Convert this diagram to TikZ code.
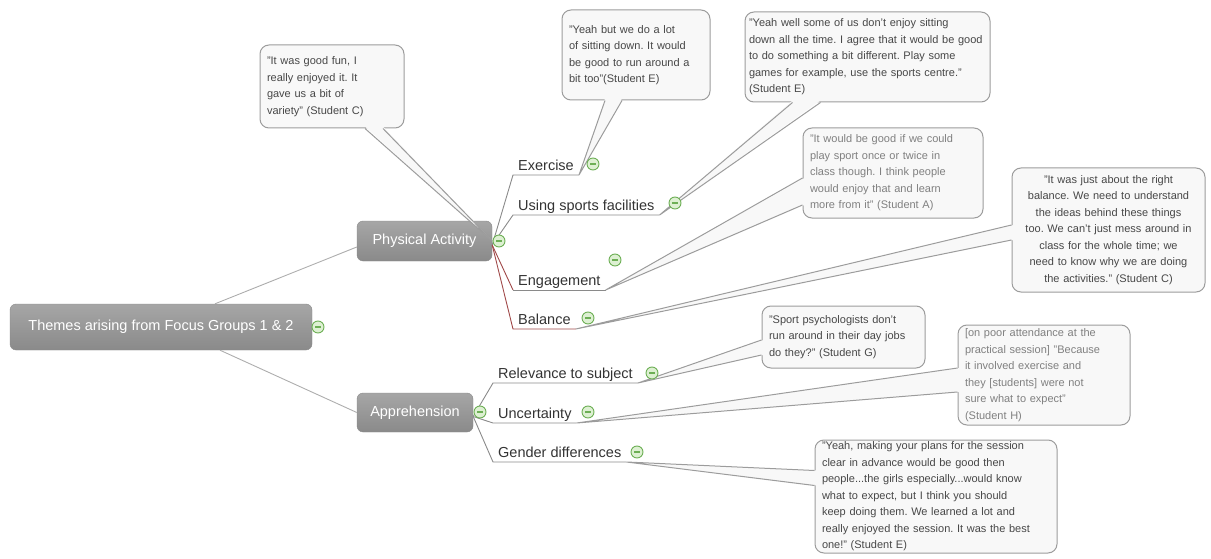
\documentclass[tikz,border=0pt]{standalone}
\usepackage{fontspec}
\setmainfont{Liberation Sans}
\usetikzlibrary{positioning,calc}
\definecolor{topictop}{HTML}{A6A6A6}
\definecolor{topicbot}{HTML}{8A8A8A}
\definecolor{linegray}{HTML}{8A8A8A}
\definecolor{branchred}{HTML}{A04848}
\definecolor{labeltext}{HTML}{333333}
\definecolor{minusgreen}{HTML}{6DAF55}
\definecolor{minusfill}{HTML}{DDF0D2}
\definecolor{quoteborder}{HTML}{9C9C9C}
\definecolor{quotefill}{HTML}{F8F8F8}
\definecolor{quotetext}{HTML}{474747}
\definecolor{quotelight}{HTML}{808080}
\tikzset{
  theme/.style={rectangle,rounded corners=6pt,top color=topictop,bottom color=topicbot,
    draw=topicbot,text=white,font=\fontsize{14.5}{17}\selectfont,inner sep=0pt},
  subtopic/.style={anchor=south west,inner xsep=5pt,inner ysep=2.5pt,text height=0.75em,
    text depth=0.22em,text=labeltext,font=\fontsize{14.5}{17}\selectfont},
  branch/.style={draw=linegray,line width=0.9pt},
  hotbranch/.style={draw=branchred,line width=0.9pt},
  collapse/.style={circle,draw=minusgreen,fill=minusfill,minimum size=12pt,inner sep=0pt,
    line width=0.9pt,
    path picture={\draw[minusgreen,line width=1.1pt]
      ([xshift=3pt]path picture bounding box.west) -- ([xshift=-3pt]path picture bounding box.east);}},
  quote/.style={rectangle,rounded corners=9pt,draw=quoteborder,line width=1pt,fill=quotefill,
    text=quotetext,align=left,text width=#1,inner xsep=7pt,inner ysep=0pt,
    font=\fontsize{11}{16.5}\selectfont\frenchspacing},
  quote/.default=130pt,
  faint/.style={text=quotelight},
  beak/.style={fill=quotefill},
  beakline/.style={draw=quoteborder,line width=1pt}
}
\begin{document}
\begin{tikzpicture}[x=1pt,y=-1pt]
\useasboundingbox (0,0) rectangle (1211,559);

% themes
\node[theme,minimum width=302pt,minimum height=46pt] (root) at (161,327) {Themes arising from Focus Groups 1 \& 2};
\node[theme,minimum width=135pt,minimum height=40pt] (pa) at (424.5,241) {Physical Activity};
\node[theme,minimum width=116pt,minimum height=39pt] (ap) at (415,412.5) {Apprehension};
\draw[branch,draw=linegray!70] ([xshift=54pt]root.north) -- ([yshift=-6pt]pa.west);
\draw[branch,draw=linegray!70] ([xshift=59pt]root.south) -- (ap.west);

% sub topics
\coordinate (pab) at ([yshift=-4pt]pa.east);
\coordinate (apb) at ([yshift=-4pt]ap.east);
\node[subtopic] (ex) at (513,175) {Exercise};
\node[subtopic] (us) at (513,215) {Using sports facilities};
\node[subtopic] (en) at (513,290) {Engagement};
\node[subtopic] (ba) at (513,329) {Balance};
\node[subtopic] (rel) at (493,383) {Relevance to subject};
\node[subtopic] (unc) at (493,423) {Uncertainty};
\node[subtopic] (gen) at (493,462) {Gender differences};
\draw[branch] (pab) -- (ex.south west) -- (ex.south east);
\draw[branch] (pab) -- (us.south west) -- (us.south east);
\draw[hotbranch] (pab) -- (en.south west);
\draw[branch] (en.south west) -- (en.south east);
\draw[hotbranch] (pab) -- (ba.south west) -- (ba.south east);
\draw[branch] (apb) -- (rel.south west) -- (rel.south east);
\draw[branch] (apb) -- (unc.south west) -- (unc.south east);
\draw[branch] (apb) -- (gen.south west) -- (gen.south east);

% quotes
\node[quote=130pt,minimum height=83pt] (q1) at (332,86.5)
  {"It was good fun, I\\ really enjoyed it. It\\ gave us a bit of\\ variety" (Student C)};
\node[quote=134pt,minimum height=90pt] (q2) at (636,55)
  {"Yeah but we do a lot\\ of sitting down. It would\\ be good to run around a\\ bit too"(Student E)};
\node[quote=237pt,inner xsep=4pt,minimum height=90pt] (q3) at (867.5,57)
  {"Yeah well some of us don't enjoy sitting\\ down all the time. I agree that it would be good\\ to do something a bit different. Play some\\ games for example, use the sports centre."\\ (Student E)};
\node[quote=166pt,faint,minimum height=90pt] (q4) at (893,173)
  {"It would be good if we could\\ play sport once or twice in\\ class though. I think people\\ would enjoy that and learn\\ more from it" (Student A)};
\node[quote=179pt,align=center,minimum height=124pt] (q5) at (1108.5,230)
  {"It was just about the right\\ balance. We need to understand\\ the ideas behind these things\\ too. We can't just mess around in\\ class for the whole time; we\\ need to know why we are doing\\ the activities." (Student C)};
\node[quote=149pt,minimum height=62pt] (q6) at (843.5,337)
  {"Sport psychologists don't\\ run around in their day jobs\\ do they?" (Student G)};
\node[quote=158pt,faint,minimum height=100pt] (q7) at (1044,375)
  {[on poor attendance at the\\ practical session] "Because\\ it involved exercise and\\ they [students] were not\\ sure what to expect"\\ (Student H)};
\node[quote=228pt,minimum height=113pt] (q8) at (936,496.5)
  {"Yeah, making your plans for the session\\ clear in advance would be good then\\ people...the girls especially...would know\\ what to expect, but I think you should\\ keep doing them. We learned a lot and\\ really enjoyed the session. It was the best\\ one!" (Student E)};

% pointers
\fill[beak] ([xshift=33pt,yshift=2pt]q1.south) -- (pa.east) -- ([xshift=51pt,yshift=2pt]q1.south) -- cycle;
\draw[beakline] ([xshift=33pt]q1.south) -- (pa.east) -- ([xshift=51pt]q1.south);
\fill[beak] ([xshift=-31pt,yshift=2pt]q2.south) -- (ex.south east) -- ([xshift=-14pt,yshift=2pt]q2.south) -- cycle;
\draw[beakline] ([xshift=-31pt]q2.south) -- (ex.south east) -- ([xshift=-14pt]q2.south);
\fill[beak] ([xshift=-75pt,yshift=2pt]q3.south) -- (us.south east) -- ([xshift=-47pt,yshift=2pt]q3.south) -- cycle;
\draw[beakline] ([xshift=-75pt]q3.south) -- (us.south east) -- ([xshift=-47pt]q3.south);
\fill[beak] ([xshift=2pt,yshift=-5pt]q4.west) -- (en.south east) -- ([xshift=2pt,yshift=-32pt]q4.west) -- cycle;
\draw[beakline] ([yshift=-5pt]q4.west) -- (en.south east) -- ([yshift=-32pt]q4.west);
\fill[beak] ([xshift=2pt,yshift=5pt]q5.west) -- (ba.south east) -- ([xshift=2pt,yshift=-10pt]q5.west) -- cycle;
\draw[beakline] ([yshift=5pt]q5.west) -- (ba.south east) -- ([yshift=-10pt]q5.west);
\fill[beak] ([xshift=2pt,yshift=-3pt]q6.west) -- (rel.south east) -- ([xshift=2pt,yshift=-18pt]q6.west) -- cycle;
\draw[beakline] ([yshift=-3pt]q6.west) -- (rel.south east) -- ([yshift=-18pt]q6.west);
\fill[beak] ([xshift=2pt,yshift=7pt]q7.west) -- (unc.south east) -- ([xshift=2pt,yshift=-17pt]q7.west) -- cycle;
\draw[beakline] ([yshift=7pt]q7.west) -- (unc.south east) -- ([yshift=-17pt]q7.west);
\fill[beak] ([xshift=2pt,yshift=26pt]q8.west) -- (gen.south east) -- ([xshift=2pt,yshift=11pt]q8.west) -- cycle;
\draw[beakline] ([yshift=26pt]q8.west) -- (gen.south east) -- ([yshift=11pt]q8.west);

% collapse buttons
\node[collapse] (rootm) at (318,327) {};
\node[collapse] (pam) at (499,241) {};
\node[collapse] (apm) at (480,412) {};
\node[collapse] (exm) at (593,164) {};
\node[collapse] (usm) at (675,203) {};
\node[collapse] (enm) at (615,260) {};
\node[collapse] (bam) at (588,318) {};
\node[collapse] (relm) at (652,373) {};
\node[collapse] (uncm) at (588,412) {};
\node[collapse] (genm) at (637,452) {};
\end{tikzpicture}
\end{document}
